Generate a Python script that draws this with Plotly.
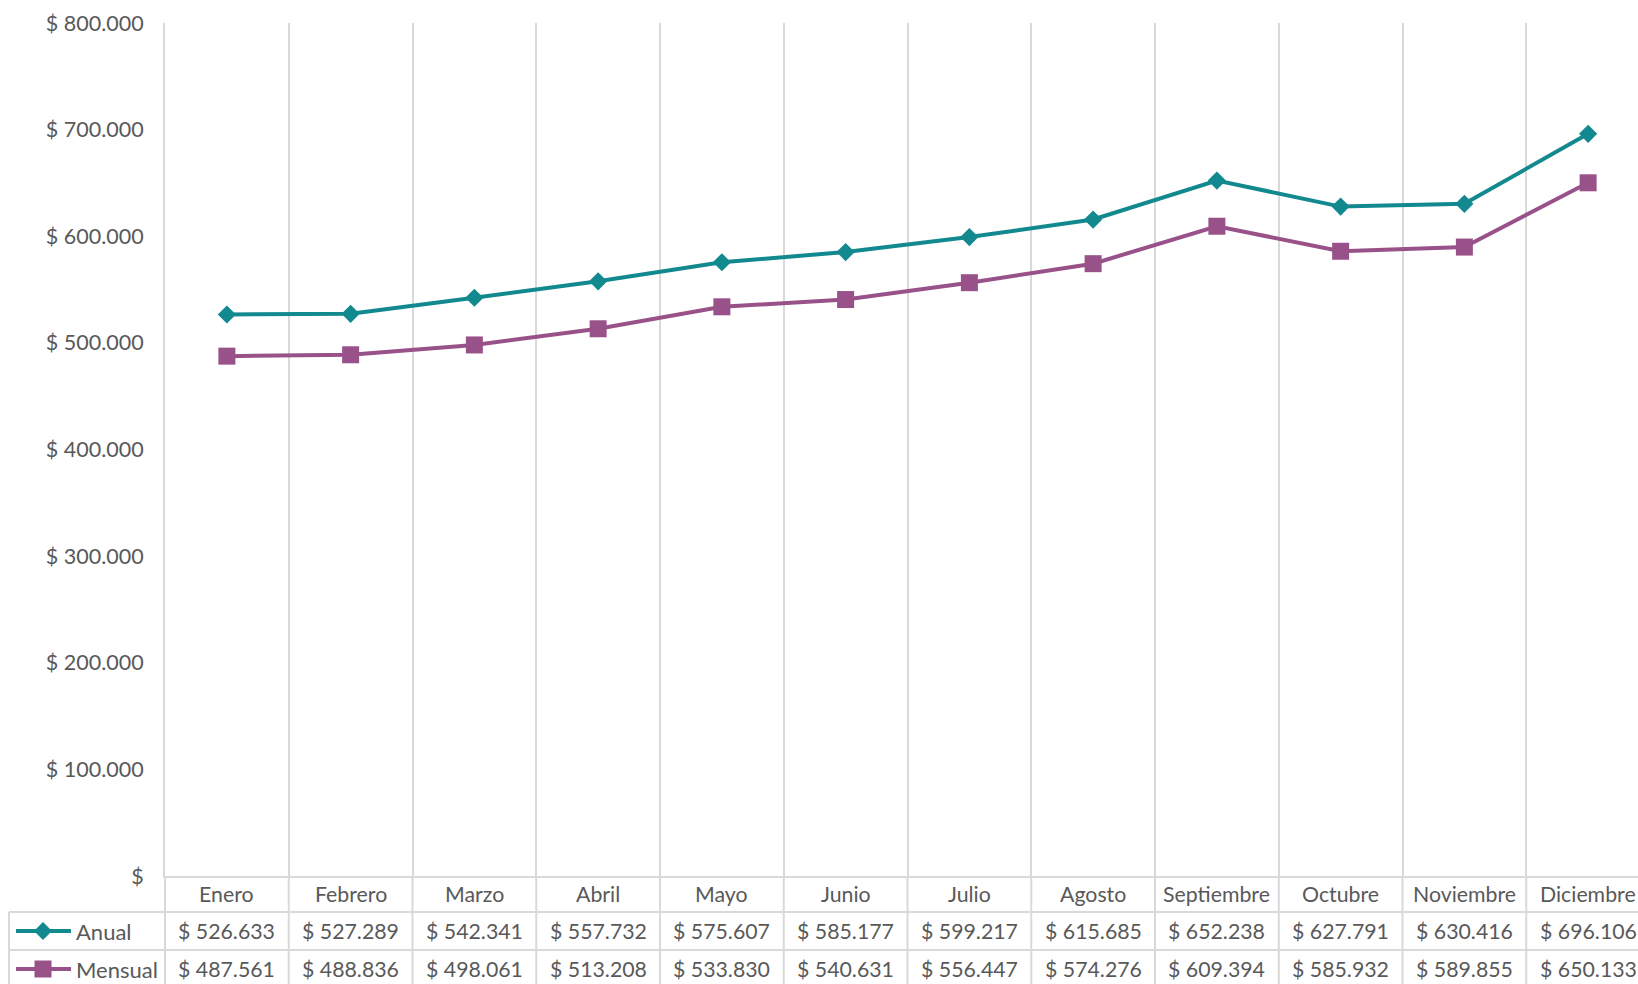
import plotly.graph_objects as go

meses = ["Enero", "Febrero", "Marzo", "Abril", "Mayo", "Junio", "Julio",
         "Agosto", "Septiembre", "Octubre", "Noviembre", "Diciembre"]
anual = [526633, 527289, 542341, 557732, 575607, 585177, 599217,
         615685, 652238, 627791, 630416, 696106]
mensual = [487561, 488836, 498061, 513208, 533830, 540631, 556447,
           574276, 609394, 585932, 589855, 650133]
series_names = ["Anual", "Mensual"]
y_ticks = [0, 100000, 200000, 300000, 400000, 500000, 600000, 700000, 800000]

TEAL = "#12898F"
PURPLE = "#99518A"
GRID = "#D9D9D9"
TXT = "#595959"
FONT = "Lato"
FS = 21.3

# body margin is removed by the post script, so screen coordinate = figure coordinate
OFF = 0
W, H = 1638, 984
L = 165 - OFF
T = 23 - OFF
AXIS_Y = 876 - OFF
B = H - AXIS_Y
PW = W - L
PH = H - T - B
CAT_W = 123.75
xr = [-0.5, -0.5 + PW / CAT_W]


def fmt(v):
    return "$" if v == 0 else "$ " + f"{v:,}".replace(",", ".")


def px_x(px):  # px given in screen coordinates
    return (px - OFF - L) / PW


def px_y(py):
    return (AXIS_Y - (py - OFF)) / PH


fig = go.Figure()
fig.add_trace(go.Scatter(x=meses, y=anual, name=series_names[0], mode="lines+markers",
                         line=dict(color=TEAL, width=4),
                         marker=dict(symbol="diamond", size=14, color=TEAL),
                         hoverinfo="skip"))
fig.add_trace(go.Scatter(x=meses, y=mensual, name=series_names[1], mode="lines+markers",
                         line=dict(color=PURPLE, width=4),
                         marker=dict(symbol="square", size=17, color=PURPLE),
                         hoverinfo="skip"))

shapes = []
annotations = []
y_bottom = px_y(1010)
row_lines = [px_y(912), px_y(950), px_y(988)]
for yl in row_lines:
    shapes.append(dict(type="line", xref="paper", yref="paper", x0=px_x(9), x1=1.02,
                       y0=yl, y1=yl, line=dict(color=GRID, width=2), layer="below"))
# left border of the data rows
shapes.append(dict(type="line", xref="paper", yref="paper", x0=px_x(9), x1=px_x(9),
                   y0=row_lines[0], y1=y_bottom, line=dict(color=GRID, width=2)))
# left table edge (axis continuation)
shapes.append(dict(type="line", xref="paper", yref="paper", x0=0, x1=0,
                   y0=0, y1=y_bottom, line=dict(color=GRID, width=2)))
# column boundaries through the table
for k in range(1, len(meses) + 1):
    shapes.append(dict(type="line", xref="x", yref="paper", x0=k - 0.5, x1=k - 0.5,
                       y0=y_bottom, y1=0, line=dict(color=GRID, width=2)))

row_y = [px_y(894), px_y(931), px_y(969)]
for m in meses:
    annotations.append(dict(x=m, y=row_y[0], xref="x", yref="paper", text=m,
                            xanchor="center", yanchor="middle", showarrow=False,
                            font=dict(family=FONT, size=FS, color=TXT)))
for vals, ry in [(anual, row_y[1]), (mensual, row_y[2])]:
    for m, v in zip(meses, vals):
        annotations.append(dict(x=m, y=ry, xref="x", yref="paper", text=fmt(v),
                                xanchor="center", yanchor="middle", showarrow=False,
                                font=dict(family=FONT, size=FS, color=TXT)))

# legend keys in the table
for name, color, ry, kind in [(series_names[0], TEAL, row_y[1], "diamond"),
                              (series_names[1], PURPLE, row_y[2], "square")]:
    shapes.append(dict(type="line", xref="paper", yref="paper", x0=px_x(16), x1=px_x(71),
                       y0=ry, y1=ry, line=dict(color=color, width=4)))
    cx = px_x(43)
    if kind == "diamond":
        hx, hy = 9 / PW, 9 / PH
        path = (f"M {cx - hx} {ry} L {cx} {ry + hy} L {cx + hx} {ry} "
                f"L {cx} {ry - hy} Z")
    else:
        hx, hy = 8.5 / PW, 8.5 / PH
        path = (f"M {cx - hx} {ry - hy} L {cx - hx} {ry + hy} L {cx + hx} {ry + hy} "
                f"L {cx + hx} {ry - hy} Z")
    shapes.append(dict(type="path", xref="paper", yref="paper", path=path,
                       fillcolor=color, line=dict(color=color, width=0)))
    annotations.append(dict(x=px_x(74), y=ry, xref="paper", yref="paper", text=name,
                            xanchor="left", yanchor="middle", showarrow=False,
                            font=dict(family=FONT, size=22, color=TXT)))

fig.update_layout(
    width=W, height=H,
    margin=dict(l=L, r=0, t=T, b=B),
    paper_bgcolor="white", plot_bgcolor="white",
    showlegend=False,
    font=dict(family=FONT, size=FS, color=TXT),
    xaxis=dict(type="category", range=xr, tickson="boundaries", showgrid=True,
               gridcolor=GRID, gridwidth=2, showticklabels=False, ticks="",
               showline=True, linecolor=GRID, linewidth=2, zeroline=False,
               fixedrange=True),
    yaxis=dict(range=[0, 800000], tickvals=y_ticks, ticktext=[fmt(v) for v in y_ticks],
               showgrid=False, zeroline=False, showline=True, linecolor=GRID,
               linewidth=2, ticks="", ticklabelstandoff=15,
               tickfont=dict(family=FONT, size=21.5, color=TXT), fixedrange=True),
    shapes=shapes,
    annotations=annotations,
)

fig.write_html(
    "out.html",
    config={"displayModeBar": False},
    post_script="document.body.style.margin='0';document.body.style.overflow='hidden';",
)
